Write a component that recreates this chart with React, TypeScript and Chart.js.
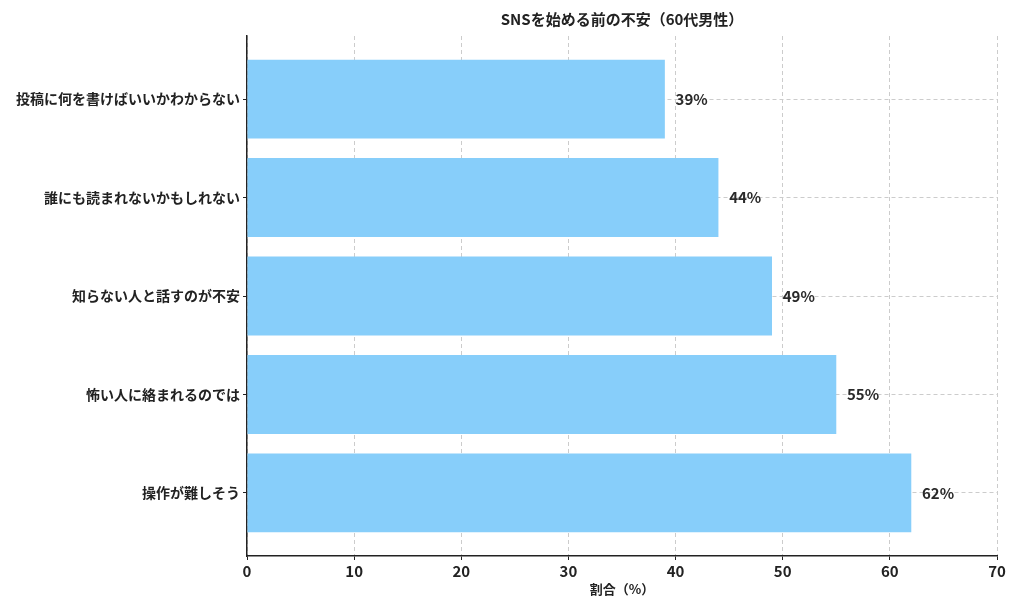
import React, { useEffect, useRef } from "react";
import { Chart, registerables } from "chart.js";

Chart.register(...registerables);

const categories = [
  "投稿に何を書けばいいかわからない",
  "誰にも読まれないかもしれない",
  "知らない人と話すのが不安",
  "怖い人に絡まれるのでは",
  "操作が難しそう",
];
const values = [39, 44, 49, 55, 62];
const xTicks = [0, 10, 20, 30, 40, 50, 60, 70];
const chartTitle = "SNSを始める前の不安（60代男性）";
const xAxisTitle = "割合（%）";

const FONT = "'Noto Sans CJK JP', 'Noto Sans', sans-serif";

const overlayPlugin = {
  id: "overlay",
  afterDatasetsDraw(chart: any) {
    const { ctx, scales } = chart;
    const xs = scales.x;
    const ys = scales.y;
    ctx.save();
    ctx.fillStyle = "#2a2a2a";
    ctx.font = `bold 15px ${FONT}`;
    ctx.textAlign = "left";
    ctx.textBaseline = "middle";
    values.forEach((v, i) => {
      ctx.fillText(`${v}%`, xs.getPixelForValue(v + 1), ys.getPixelForValue(i));
    });
    ctx.font = `bold 15px ${FONT}`;
    ctx.textAlign = "center";
    ctx.fillStyle = "#222";
    ctx.fillText(chartTitle, (chart.chartArea.left + chart.chartArea.right) / 2, 19);
    ctx.font = `bold 13px ${FONT}`;
    ctx.fillText(xAxisTitle, (chart.chartArea.left + chart.chartArea.right) / 2, 589);
    ctx.restore();
  },
};

export default function App() {
  const ref = useRef<HTMLCanvasElement | null>(null);
  useEffect(() => {
    if (!ref.current) return;
    const chart = new Chart(ref.current, {
      type: "bar",
      data: {
        datasets: [
          {
            data: values.map((v, i) => ({ x: v, y: i })),
            backgroundColor: "#87CEFA",
            borderWidth: 0,
            barPercentage: 0.8,
            categoryPercentage: 1,
          },
        ],
      },
      options: {
        indexAxis: "y",
        animation: false,
        responsive: true,
        maintainAspectRatio: false,
        layout: { padding: { top: 36, right: 27, left: 0, bottom: 0 } },
        plugins: {
          legend: { display: false },
          title: { display: false },
          tooltip: { enabled: false },
        },
        scales: {
          x: {
            type: "linear",
            min: 0,
            max: 70,
            offset: false,
            afterBuildTicks: (s: any) => {
              s.ticks = xTicks.map((v) => ({ value: v }));
            },
            afterFit: (s: any) => {
              s.height = 58;
            },
            grid: {
              color: "#cccccc",
              tickBorderDash: [],
              tickColor: "#222",
              tickLength: 4,
              offset: false,
            } as any,
            border: { display: true, color: "#222", width: 1.5, dash: [4, 3] } as any,
            ticks: {
              color: "#222",
              font: { family: FONT, size: 15, weight: "bold" },
              padding: 2,
            },
          },
          y: {
            type: "linear",
            reverse: true,
            min: -0.64,
            max: 4.64,
            offset: false,
            afterBuildTicks: (s: any) => {
              s.ticks = categories.map((_, i) => ({ value: i }));
            },
            afterFit: (s: any) => {
              s.width = 247;
            },
            grid: {
              color: "#cccccc",
              tickBorderDash: [],
              tickColor: "#222",
              tickLength: 4,
              offset: false,
            } as any,
            border: { display: true, color: "#222", width: 1.5, dash: [4, 3] } as any,
            ticks: {
              color: "#222",
              font: { family: FONT, size: 14, weight: "bold" },
              padding: 3,
              callback: (v: any) => categories[Math.round(Number(v))] ?? "",
            },
          },
        },
      } as any,
      plugins: [overlayPlugin],
    });
    return () => chart.destroy();
  }, []);
  return (
    <div style={{ position: "fixed", left: 0, top: 0, width: 1024, height: 614, background: "#fff" }}>
      <canvas ref={ref} />
    </div>
  );
}
